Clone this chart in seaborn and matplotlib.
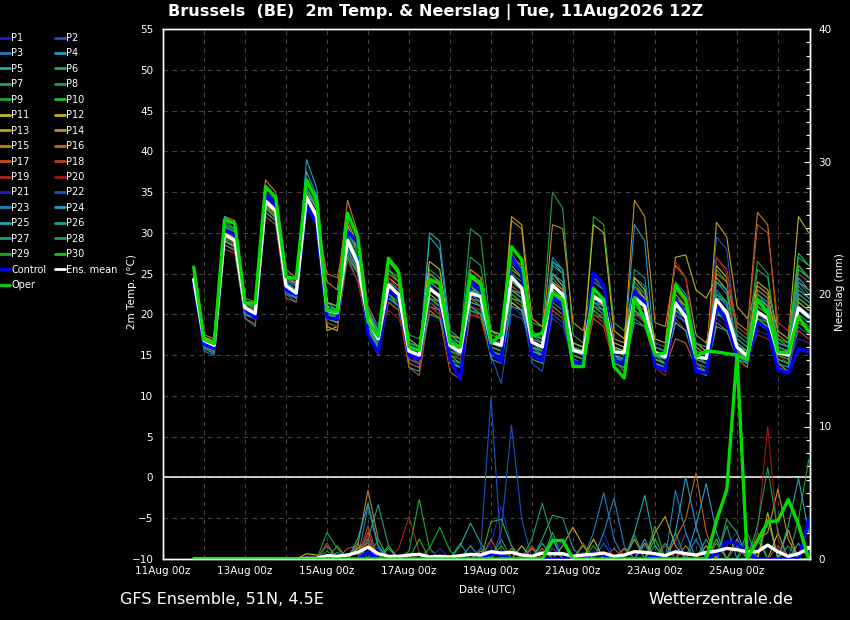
import numpy as np
import pandas as pd
import matplotlib
matplotlib.use('Agg')
import matplotlib.pyplot as plt
import matplotlib.dates as mdates
from matplotlib.lines import Line2D
from matplotlib.ticker import MultipleLocator
import seaborn as sns

# 6-hourly forecast steps, first step 11Aug 18z
times = pd.date_range('2026-08-11 18:00', periods=61, freq='6h')

# ---- 2m temperature (deg C) ----
MEAN_T = [24.3, 16.8, 16.2, 29.8, 29.1, 20.8, 20.1, 33.9, 32.7, 23.5, 22.6, 34.4, 32.0, 20.5, 20.2, 29.1, 26.3,
          19.3, 17.0, 23.6, 22.4, 15.5, 15.0, 23.2, 22.2, 16.2, 15.4, 22.6, 22.2, 16.6, 16.2, 24.6, 23.2,
          16.6, 16.0, 23.6, 22.4, 15.6, 15.3, 22.2, 21.4, 15.4, 15.3, 22.0, 21.0, 15.3, 14.8, 21.4, 19.7,
          14.8, 14.6, 21.8, 20.2, 16.0, 14.9, 20.3, 19.5, 15.3, 15.0, 20.8, 19.7]
OPER_T = [25.8, 16.9, 16.4, 31.6, 31.2, 21.4, 21.4, 35.7, 34.3, 24.6, 24.4, 36.5, 34.0, 20.5, 20.3, 32.4, 29.5,
          19.1, 17.3, 26.9, 25.1, 16.0, 15.6, 24.2, 23.8, 16.5, 16.0, 24.8, 23.8, 16.5, 17.5, 28.3, 26.7,
          17.3, 17.7, 22.6, 21.8, 13.6, 13.6, 23.2, 21.8, 13.6, 12.2, 22.0, 19.3, 15.0, 15.3, 23.6, 21.8,
          14.8, 15.5, 15.4, 15.2, 15.0, 14.4, 21.8, 20.2, 15.4, 15.3, 19.7, 17.9]
CTRL_T = [24.0, 16.3, 15.8, 30.4, 29.8, 20.6, 19.6, 34.6, 33.4, 23.0, 22.4, 33.5, 31.0, 19.6, 19.4, 30.2, 28.8,
          17.5, 15.3, 23.0, 22.0, 15.0, 14.6, 23.5, 22.0, 14.5, 12.0, 24.0, 23.0, 15.5, 14.2, 27.1, 25.0,
          15.0, 14.4, 22.2, 21.0, 14.2, 14.0, 25.1, 23.6, 14.3, 14.0, 22.8, 21.5, 13.6, 13.2, 21.8, 20.0,
          13.0, 12.8, 21.0, 19.2, 14.8, 14.4, 19.0, 18.2, 13.2, 12.8, 15.8, 15.4]

P1 = [24.1, 16.0, 15.5, 29.5, 28.8, 20.2, 19.4, 33.2, 32.0, 23.0, 22.0, 35.5, 33.0, 19.5, 19.0, 28.0, 25.0,
      18.0, 15.5, 22.0, 21.0, 14.5, 13.8, 22.5, 21.5, 15.0, 14.0, 21.0, 20.5, 15.5, 15.0, 23.0, 22.0,
      15.8, 15.2, 22.5, 21.5, 16.0, 15.5, 24.0, 23.0, 16.5, 16.0, 23.0, 22.0, 14.0, 13.5, 20.5, 19.0,
      13.5, 12.5, 19.5, 18.5, 15.5, 14.8, 22.5, 21.5, 14.5, 14.0, 20.0, 19.0]
P2 = [24.5, 16.5, 16.0, 30.0, 29.2, 21.0, 20.5, 34.2, 33.0, 24.0, 23.0, 33.8, 31.5, 21.0, 20.5, 27.5, 25.5,
      19.5, 17.5, 24.5, 23.0, 16.0, 15.5, 25.0, 24.0, 17.0, 16.0, 21.0, 20.5, 15.0, 11.5, 20.0, 19.5,
      17.0, 16.5, 25.0, 23.5, 16.0, 15.0, 21.0, 20.0, 14.5, 14.5, 22.5, 21.0, 15.5, 15.0, 23.5, 22.0,
      14.0, 13.5, 29.5, 28.0, 17.0, 16.0, 23.0, 22.0, 16.0, 15.5, 22.0, 21.0]
P3 = [24.2, 16.2, 15.6, 29.0, 28.5, 20.0, 19.5, 33.0, 31.8, 22.5, 21.5, 34.0, 31.5, 20.0, 19.8, 29.5, 26.5,
      19.0, 16.5, 23.0, 22.0, 15.0, 14.5, 22.0, 21.0, 16.5, 15.5, 21.5, 21.0, 17.0, 16.5, 26.5, 25.0,
      17.5, 16.5, 27.0, 25.5, 15.0, 14.5, 20.0, 19.0, 15.5, 15.0, 24.5, 23.5, 16.0, 15.5, 22.0, 20.5,
      15.5, 15.0, 24.0, 22.5, 16.5, 15.5, 21.0, 20.0, 16.0, 15.5, 23.5, 22.0]
P4 = [24.0, 15.8, 15.2, 31.0, 30.0, 20.0, 19.5, 34.0, 33.0, 23.5, 22.5, 39.0, 35.5, 21.5, 20.5, 27.0, 24.0,
      18.5, 16.0, 22.5, 21.0, 15.5, 14.5, 21.0, 20.5, 15.5, 15.0, 23.5, 22.0, 16.0, 15.5, 22.0, 21.5,
      17.0, 16.5, 26.0, 25.0, 15.5, 15.0, 21.5, 20.5, 16.0, 15.5, 31.0, 29.0, 15.0, 14.0, 20.0, 19.0,
      16.0, 15.0, 22.5, 21.0, 15.5, 14.5, 19.0, 18.0, 14.5, 14.0, 24.5, 23.0]
P5 = [24.4, 16.6, 16.0, 30.2, 29.5, 21.0, 20.5, 33.8, 32.5, 23.8, 23.0, 34.5, 32.0, 19.0, 18.5, 28.5, 26.0,
      18.5, 16.0, 24.0, 22.0, 13.5, 13.0, 30.0, 29.0, 18.0, 17.0, 23.0, 22.5, 16.0, 15.5, 21.5, 20.5,
      14.5, 14.0, 22.0, 21.0, 15.0, 14.5, 21.0, 20.5, 14.0, 13.5, 20.5, 19.5, 14.5, 14.0, 19.0, 18.0,
      15.0, 14.5, 22.0, 21.5, 15.0, 14.0, 19.5, 18.5, 15.5, 15.0, 21.0, 20.0]
P6 = [24.3, 17.0, 16.5, 29.0, 28.2, 21.5, 20.5, 32.5, 31.5, 23.0, 22.5, 35.0, 33.5, 20.5, 20.0, 29.0, 26.5,
      20.0, 17.5, 25.5, 24.0, 16.5, 16.0, 25.5, 24.5, 16.5, 15.5, 24.0, 23.0, 18.0, 17.5, 23.0, 22.0,
      16.0, 15.0, 24.5, 23.0, 14.5, 14.0, 22.0, 21.0, 15.0, 14.5, 21.0, 20.0, 16.0, 15.5, 20.0, 19.0,
      15.0, 14.0, 21.0, 20.0, 17.0, 16.0, 22.5, 21.0, 15.0, 14.5, 20.5, 19.5]
P7 = [24.6, 17.2, 16.8, 30.5, 29.6, 20.5, 20.0, 34.0, 33.0, 24.0, 23.5, 33.5, 31.5, 21.5, 21.0, 30.5, 27.5,
      20.5, 18.5, 22.0, 21.0, 17.5, 17.0, 21.0, 20.0, 14.5, 13.5, 23.0, 22.0, 17.0, 16.5, 24.5, 23.5,
      18.0, 17.0, 22.0, 21.0, 16.5, 16.0, 23.0, 22.0, 14.5, 13.0, 19.5, 18.5, 14.5, 14.0, 21.0, 19.5,
      15.5, 15.0, 20.5, 19.5, 16.0, 15.0, 25.5, 24.5, 16.5, 16.0, 27.0, 26.0]
P8 = [24.2, 16.4, 15.8, 31.5, 30.5, 21.0, 20.5, 33.5, 32.5, 22.8, 22.0, 34.0, 32.5, 21.0, 20.5, 30.0, 28.0,
      18.0, 16.0, 25.5, 24.0, 16.0, 15.0, 22.0, 21.5, 17.0, 16.5, 30.5, 29.5, 18.0, 17.5, 23.5, 22.5,
      19.0, 18.5, 35.0, 33.0, 17.5, 16.5, 23.0, 22.0, 16.5, 16.0, 22.5, 21.0, 14.0, 13.5, 22.0, 20.0,
      16.5, 16.0, 25.5, 24.0, 18.0, 17.0, 22.5, 21.5, 17.0, 16.0, 21.5, 20.5]
P9 = [24.5, 16.8, 16.2, 29.2, 28.8, 20.8, 20.2, 33.0, 31.8, 23.5, 22.8, 34.0, 31.8, 20.2, 19.8, 28.5, 26.0,
      19.5, 17.5, 23.5, 22.5, 15.5, 15.0, 24.5, 23.5, 15.0, 14.5, 22.0, 21.5, 16.0, 15.5, 23.5, 22.5,
      16.5, 16.0, 22.0, 21.0, 16.5, 16.0, 32.0, 31.0, 19.0, 18.0, 24.0, 22.5, 15.0, 14.5, 22.0, 20.5,
      13.0, 12.5, 23.0, 21.5, 15.5, 15.0, 20.0, 19.0, 15.0, 14.5, 19.5, 18.5]
P10 = [24.0, 16.5, 16.0, 31.0, 30.2, 21.2, 20.8, 34.5, 33.2, 24.2, 23.5, 35.5, 33.0, 21.0, 20.5, 27.5, 25.0,
       19.0, 17.0, 21.5, 20.5, 16.0, 15.5, 20.5, 19.5, 15.0, 14.0, 25.0, 24.0, 18.0, 17.0, 27.5, 25.5,
       16.0, 15.5, 21.0, 20.0, 14.0, 13.5, 20.0, 19.5, 15.5, 15.0, 21.5, 20.5, 14.5, 14.0, 20.5, 19.5,
       14.0, 13.5, 20.5, 19.0, 16.5, 15.5, 19.5, 18.5, 16.0, 15.5, 23.0, 22.0]
P11 = [24.8, 17.2, 16.6, 29.5, 29.0, 21.0, 20.0, 33.5, 32.5, 23.0, 22.0, 34.0, 32.5, 18.0, 18.5, 31.0, 28.0,
       20.0, 17.5, 27.0, 25.5, 17.0, 16.0, 26.5, 25.5, 17.5, 17.0, 21.0, 20.0, 15.5, 15.0, 21.5, 20.5,
       16.0, 15.5, 23.0, 22.0, 15.5, 15.0, 22.5, 21.5, 16.0, 15.5, 24.5, 23.0, 16.5, 16.0, 22.0, 21.0,
       16.5, 15.5, 26.0, 24.5, 15.0, 14.5, 20.5, 19.5, 15.5, 15.0, 22.0, 21.0]
P12 = [24.2, 16.0, 15.5, 30.0, 29.5, 20.5, 20.0, 33.0, 32.0, 23.0, 22.5, 34.5, 32.5, 18.5, 18.0, 27.5, 25.0,
       18.5, 16.5, 24.0, 22.5, 14.5, 14.0, 22.5, 21.5, 17.5, 16.5, 24.5, 23.5, 18.0, 17.5, 26.0, 24.5,
       15.0, 14.5, 22.0, 21.0, 16.5, 16.0, 31.0, 30.0, 18.0, 17.0, 23.5, 22.0, 17.0, 16.5, 27.0, 27.3,
       23.0, 22.0, 24.5, 23.0, 16.0, 15.0, 24.0, 23.0, 18.0, 17.0, 32.0, 30.0]
P13 = [24.6, 16.8, 16.2, 30.8, 30.0, 21.5, 21.0, 34.5, 33.5, 24.5, 23.8, 35.0, 33.0, 21.5, 21.0, 31.5, 28.5,
       20.0, 18.0, 24.5, 23.5, 16.0, 15.5, 24.0, 23.0, 16.0, 15.5, 25.5, 24.5, 17.0, 16.5, 32.0, 31.0,
       19.5, 18.5, 25.0, 23.5, 16.0, 15.5, 22.5, 21.5, 15.0, 14.5, 23.0, 22.0, 15.5, 15.0, 22.5, 21.0,
       15.0, 14.5, 31.3, 29.5, 21.0, 19.5, 23.5, 22.5, 16.0, 15.5, 26.0, 24.5]
P14 = [24.0, 16.2, 15.6, 29.0, 28.4, 20.0, 19.5, 33.5, 32.5, 23.5, 22.5, 33.5, 31.0, 19.5, 19.0, 30.5, 28.0,
       20.0, 18.0, 26.5, 25.0, 16.5, 16.0, 25.0, 24.0, 15.5, 15.0, 23.5, 22.5, 16.5, 16.0, 31.5, 30.5,
       17.5, 17.0, 31.0, 30.5, 19.0, 18.0, 24.5, 23.5, 17.0, 16.5, 34.0, 32.0, 19.0, 18.5, 26.0, 24.5,
       17.5, 16.5, 21.5, 20.5, 15.5, 14.5, 22.0, 21.0, 14.0, 13.0, 21.5, 20.5]
P15 = [25.0, 17.5, 17.0, 32.0, 31.5, 22.0, 21.5, 36.5, 35.0, 25.5, 24.5, 34.0, 32.0, 24.0, 23.0, 34.0, 30.0,
       21.0, 18.5, 25.0, 24.0, 15.0, 14.5, 21.5, 20.5, 14.0, 13.5, 22.0, 21.0, 16.0, 15.5, 23.0, 22.0,
       15.5, 15.0, 24.0, 23.0, 15.0, 14.5, 21.5, 21.0, 16.5, 16.0, 23.5, 22.5, 14.5, 14.0, 21.0, 20.0,
       16.0, 15.0, 25.0, 24.0, 19.0, 18.0, 32.5, 31.0, 17.5, 16.5, 24.0, 23.0]
P16 = [24.3, 16.4, 15.8, 30.0, 29.2, 21.0, 20.5, 35.0, 34.0, 24.5, 24.0, 34.5, 32.0, 25.0, 24.5, 30.5, 27.5,
       18.5, 16.0, 22.5, 21.5, 14.0, 13.5, 21.0, 20.0, 16.0, 15.0, 25.5, 24.5, 17.5, 17.0, 27.0, 26.0,
       16.5, 16.0, 24.0, 23.0, 15.5, 15.0, 20.5, 19.5, 14.5, 14.0, 20.5, 19.0, 14.0, 13.5, 17.0, 16.5,
       13.5, 13.0, 19.0, 18.0, 14.5, 13.5, 23.0, 22.0, 13.5, 13.0, 19.0, 18.0]
P17 = [24.1, 16.0, 15.3, 28.5, 27.8, 19.5, 18.8, 32.0, 31.0, 22.0, 21.5, 33.0, 31.0, 20.0, 19.5, 27.5, 25.0,
       17.5, 15.0, 21.5, 20.5, 13.5, 12.5, 20.5, 19.5, 13.0, 12.0, 20.0, 19.5, 15.0, 14.5, 22.0, 21.0,
       15.5, 15.0, 20.5, 19.5, 14.5, 14.0, 19.5, 18.5, 14.0, 13.5, 21.5, 20.5, 13.5, 13.0, 20.5, 19.5,
       14.0, 13.0, 21.0, 20.0, 15.0, 14.0, 20.5, 19.5, 14.5, 14.0, 18.0, 17.0]
P18 = [24.5, 16.6, 16.0, 28.0, 27.5, 20.5, 20.0, 33.0, 32.0, 23.0, 22.0, 33.5, 31.5, 20.5, 20.0, 29.0, 26.0,
       19.5, 17.0, 23.5, 22.5, 15.0, 14.5, 21.5, 20.5, 16.5, 16.0, 22.0, 21.0, 16.0, 15.5, 24.0, 23.0,
       16.5, 16.0, 21.0, 20.0, 15.5, 15.0, 24.5, 23.5, 14.5, 14.0, 22.5, 21.5, 15.0, 14.5, 23.0, 21.5,
       15.0, 14.5, 27.0, 25.5, 18.5, 17.5, 31.0, 30.0, 19.0, 18.0, 25.0, 24.0]
P19 = [24.2, 16.2, 15.6, 29.5, 28.6, 20.8, 20.0, 34.0, 33.0, 23.2, 22.5, 34.5, 32.5, 20.0, 19.5, 28.0, 25.5,
       18.0, 15.5, 24.5, 23.0, 15.0, 14.0, 24.5, 23.5, 15.5, 14.5, 20.5, 19.5, 15.0, 14.5, 23.5, 22.5,
       16.0, 15.5, 22.0, 21.0, 15.0, 14.5, 21.0, 20.0, 15.5, 15.0, 21.5, 20.5, 16.0, 15.5, 26.5, 24.5,
       14.5, 14.0, 21.0, 20.0, 15.5, 15.0, 20.5, 19.0, 15.0, 14.0, 21.0, 20.0]
P20 = [24.0, 16.0, 15.4, 30.2, 29.5, 21.2, 20.6, 33.5, 32.0, 23.0, 22.0, 33.5, 31.0, 19.0, 18.5, 26.5, 24.0,
       19.0, 17.0, 20.5, 19.5, 15.5, 15.0, 21.0, 20.0, 15.5, 14.5, 21.0, 20.5, 15.5, 15.0, 25.5, 24.5,
       17.0, 16.0, 23.0, 22.0, 15.0, 14.5, 20.0, 19.0, 13.5, 13.0, 20.0, 19.0, 13.5, 12.5, 19.5, 18.0,
       15.5, 15.0, 27.0, 25.0, 15.0, 14.5, 17.5, 17.0, 15.5, 15.0, 22.5, 21.5]
P21 = [24.3, 16.7, 16.1, 30.5, 29.8, 21.5, 21.0, 35.0, 34.0, 24.0, 23.5, 34.0, 31.5, 20.0, 19.5, 29.0, 26.5,
       20.5, 18.5, 24.0, 23.0, 15.0, 14.5, 21.5, 21.0, 15.5, 15.0, 21.0, 20.0, 17.0, 16.5, 21.0, 20.0,
       15.0, 14.5, 19.5, 18.5, 14.0, 13.5, 22.5, 21.5, 15.0, 14.5, 21.0, 20.0, 16.5, 16.0, 21.5, 20.0,
       14.5, 14.0, 20.5, 19.5, 14.5, 14.0, 18.0, 17.5, 14.5, 14.0, 17.0, 16.5]
P22 = [24.4, 16.5, 15.9, 31.0, 30.0, 20.0, 19.5, 32.5, 31.5, 23.5, 22.5, 33.5, 31.0, 20.5, 20.0, 27.5, 25.5,
       19.0, 16.5, 23.0, 22.0, 14.5, 14.0, 22.0, 21.0, 14.5, 13.5, 20.5, 20.0, 16.0, 14.0, 24.0, 23.0,
       14.0, 13.0, 20.0, 19.0, 14.5, 14.0, 24.5, 23.0, 15.0, 14.5, 23.5, 22.5, 14.0, 13.5, 20.0, 19.0,
       14.0, 13.5, 23.0, 21.0, 16.0, 15.0, 20.0, 19.0, 13.5, 13.0, 18.5, 17.5]
P23 = [24.0, 15.5, 15.0, 28.5, 28.0, 19.5, 18.5, 32.5, 31.5, 22.5, 22.0, 36.0, 34.0, 20.5, 19.5, 29.5, 27.0,
       19.0, 16.5, 24.0, 23.0, 16.5, 16.0, 23.0, 22.5, 16.0, 15.5, 22.5, 22.0, 15.0, 14.5, 25.0, 24.0,
       16.5, 15.5, 26.5, 25.0, 16.0, 15.5, 24.0, 23.0, 15.0, 14.5, 20.0, 19.5, 15.0, 14.5, 24.0, 22.5,
       16.5, 16.0, 20.5, 19.5, 15.5, 15.0, 21.0, 20.0, 16.0, 15.5, 24.0, 22.5]
P24 = [24.5, 16.0, 15.5, 32.0, 31.0, 21.5, 21.0, 35.5, 34.5, 24.5, 23.5, 37.5, 34.5, 21.0, 20.5, 29.0, 26.5,
       20.5, 18.0, 22.0, 21.0, 15.0, 14.5, 24.0, 23.0, 14.0, 13.5, 22.5, 21.5, 15.5, 15.0, 23.0, 22.5,
       15.5, 15.0, 25.0, 24.0, 15.5, 15.0, 23.0, 22.0, 15.0, 14.0, 21.5, 21.0, 14.0, 13.5, 21.0, 20.0,
       13.5, 13.0, 20.0, 19.5, 14.5, 14.0, 22.0, 21.0, 14.0, 13.5, 22.5, 21.5]
P25 = [24.2, 16.3, 15.7, 30.0, 29.0, 20.0, 19.5, 33.5, 32.0, 23.0, 22.0, 35.0, 33.0, 19.5, 19.0, 28.0, 25.5,
       18.5, 16.0, 23.5, 22.5, 15.5, 15.0, 29.5, 28.0, 17.0, 16.0, 21.5, 21.0, 14.5, 14.0, 21.0, 20.5,
       15.5, 15.0, 26.5, 25.5, 14.5, 14.0, 22.0, 21.0, 15.0, 14.5, 22.0, 21.5, 14.5, 14.0, 19.0, 18.0,
       13.5, 13.0, 18.5, 18.0, 15.0, 14.5, 21.5, 20.5, 16.5, 16.0, 25.5, 24.5]
P26 = [24.4, 16.9, 16.3, 29.8, 29.0, 20.5, 20.0, 34.0, 33.0, 23.8, 23.0, 34.0, 32.0, 20.0, 19.5, 30.0, 27.5,
       19.5, 17.5, 23.0, 22.0, 15.0, 14.5, 20.0, 19.5, 16.0, 15.0, 20.5, 20.0, 16.5, 16.0, 22.0, 21.5,
       15.0, 14.5, 22.5, 21.5, 15.5, 15.0, 21.5, 20.5, 14.0, 13.5, 19.0, 18.5, 15.0, 14.5, 20.5, 19.5,
       15.5, 15.0, 24.0, 23.0, 16.0, 15.5, 19.0, 18.5, 15.5, 15.0, 21.0, 20.0]
P27 = [24.1, 16.1, 15.5, 31.2, 30.4, 20.8, 20.0, 32.5, 31.5, 23.2, 22.4, 33.5, 31.5, 20.5, 20.0, 28.5, 26.0,
       20.5, 17.5, 25.5, 24.5, 16.0, 15.5, 23.0, 22.0, 15.5, 15.0, 23.5, 22.5, 16.0, 15.5, 22.5, 21.5,
       16.5, 16.0, 21.5, 20.5, 14.5, 14.0, 21.0, 20.0, 14.5, 14.0, 25.5, 24.5, 15.5, 15.0, 22.0, 21.0,
       15.0, 14.5, 20.0, 19.5, 15.0, 14.0, 20.5, 19.5, 14.5, 14.0, 20.0, 19.0]
P28 = [24.6, 16.8, 16.3, 30.6, 29.8, 21.0, 20.5, 33.8, 32.8, 23.5, 23.0, 35.5, 33.5, 21.0, 20.5, 30.5, 27.5,
       19.5, 17.0, 22.5, 21.5, 16.0, 15.5, 24.5, 24.0, 17.5, 16.5, 27.0, 26.0, 17.5, 17.0, 24.0, 23.0,
       17.5, 17.0, 26.5, 25.0, 15.5, 15.0, 22.5, 21.5, 14.0, 13.5, 22.0, 21.0, 14.5, 14.0, 23.0, 22.0,
       14.5, 14.0, 21.0, 20.0, 17.5, 16.5, 26.5, 25.0, 15.5, 15.0, 26.0, 24.5]
P29 = [24.3, 16.6, 16.0, 29.6, 28.8, 20.6, 20.0, 33.2, 32.2, 23.0, 22.5, 34.0, 32.0, 20.0, 19.5, 27.0, 25.0,
       19.0, 16.5, 22.5, 21.0, 15.0, 14.5, 22.0, 21.5, 16.0, 15.5, 24.0, 23.0, 16.0, 15.5, 22.5, 21.5,
       18.0, 17.0, 22.5, 21.5, 16.0, 15.5, 20.5, 19.5, 16.0, 15.0, 22.0, 21.0, 16.0, 15.5, 21.5, 20.5,
       14.5, 14.0, 22.5, 21.5, 15.0, 14.5, 19.5, 19.0, 14.5, 14.0, 22.0, 21.0]
P30 = [24.2, 16.2, 15.6, 30.8, 30.0, 21.4, 20.8, 34.6, 33.4, 23.6, 22.8, 33.8, 31.8, 19.5, 19.0, 29.5, 27.0,
       18.0, 15.5, 23.0, 22.0, 15.5, 15.0, 22.0, 21.0, 14.5, 14.0, 21.0, 20.0, 15.5, 15.0, 25.5, 24.5,
       16.0, 15.5, 23.0, 22.0, 15.0, 14.5, 22.5, 21.5, 15.5, 15.0, 20.5, 19.5, 14.5, 14.0, 21.5, 20.5,
       15.0, 14.5, 20.5, 19.0, 16.0, 15.5, 21.0, 20.0, 17.0, 16.5, 27.5, 26.0]

# ---- precipitation (mm per 6h); step index -> value, all other steps 0 ----
MEAN_RR = {11: 0.05, 12: 0.05, 13: 0.25, 14: 0.2, 15: 0.3, 16: 0.5, 17: 0.9, 18: 0.4, 19: 0.2, 20: 0.2,
           21: 0.3, 22: 0.35, 23: 0.15, 24: 0.2, 25: 0.15, 26: 0.25, 27: 0.35, 28: 0.3, 29: 0.55, 30: 0.45,
           31: 0.5, 32: 0.3, 33: 0.2, 34: 0.45, 35: 0.4, 36: 0.4, 37: 0.2, 38: 0.3, 39: 0.35, 40: 0.45,
           41: 0.2, 42: 0.3, 43: 0.55, 44: 0.5, 45: 0.4, 46: 0.25, 47: 0.55, 48: 0.4, 49: 0.3, 50: 0.5,
           51: 0.6, 52: 0.8, 53: 0.7, 54: 0.55, 55: 0.55, 56: 1.05, 57: 0.55, 58: 0.2, 59: 0.4, 60: 0.8}
OPER_RR = {35: 1.4, 36: 1.4, 51: 2.9, 52: 5.2, 53: 15.4, 55: 1.4, 56: 2.8, 57: 2.9, 58: 4.5, 59: 2.6}
CTRL_RR = {17: 0.5, 29: 0.4, 30: 0.3, 39: 0.5, 40: 0.3, 45: 0.3, 51: 0.4, 52: 1.3, 53: 1.2, 54: 0.4, 60: 3.0}

P1_RR = {29: 1.2, 30: 4.0, 31: 1.0, 38: 0.5, 47: 1.5, 52: 1.0, 53: 2.0}
P2_RR = {30: 2.0, 31: 10.1, 32: 3.0, 35: 0.8, 40: 1.2, 48: 2.0}
P3_RR = {17: 4.0, 18: 0.8, 39: 2.0, 40: 5.0, 41: 1.5, 47: 5.2, 48: 2.0, 53: 1.0}
P4_RR = {16: 0.8, 17: 1.5, 27: 1.0, 44: 1.5, 49: 2.5, 50: 5.7, 51: 2.0, 59: 1.2}
P5_RR = {26: 1.0, 27: 2.7, 28: 1.2, 43: 2.0, 44: 4.8, 45: 1.0, 55: 1.5}
P6_RR = {17: 1.5, 18: 4.1, 19: 1.0, 33: 1.0, 35: 2.0, 50: 1.5, 52: 2.5}
P7_RR = {13: 1.0, 33: 1.5, 34: 4.2, 35: 1.5, 46: 1.2, 54: 1.0, 56: 3.0}
P8_RR = {13: 2.0, 14: 0.8, 16: 1.2, 28: 0.8, 45: 2.5, 47: 2.0}
P9_RR = {21: 0.6, 22: 4.5, 23: 0.8, 30: 1.5, 55: 2.0, 59: 3.0, 60: 7.5}
P10_RR = {14: 1.0, 29: 2.8, 30: 3.0, 31: 1.0, 51: 1.2}
P11_RR = {11: 0.4, 12: 0.3, 32: 1.0, 39: 1.5, 42: 0.8, 50: 1.0, 57: 2.0}
P12_RR = {36: 1.0, 37: 2.4, 38: 1.0, 44: 1.2, 56: 3.5}
P13_RR = {16: 0.8, 17: 1.2, 45: 2.0, 46: 3.2, 47: 1.0, 58: 2.2}
P14_RR = {28: 0.6, 33: 0.8, 43: 1.5, 55: 1.5, 56: 2.0, 57: 5.3, 58: 1.5}
P15_RR = {16: 1.0, 17: 5.2, 18: 1.5, 31: 0.8, 48: 1.0, 53: 1.5}
P16_RR = {17: 2.0, 34: 0.8, 47: 1.5, 48: 3.0, 49: 6.5, 50: 2.0}
P17_RR = {15: 0.8, 16: 1.0, 17: 1.2, 29: 1.5, 41: 0.8, 51: 1.5}
P18_RR = {13: 1.2, 17: 2.5, 38: 1.2, 57: 1.0}
P19_RR = {20: 0.8, 21: 3.2, 22: 0.5, 33: 1.0, 46: 1.0}
P20_RR = {17: 1.8, 42: 0.7, 55: 2.0, 56: 10.0, 57: 1.5}
P21_RR = {18: 1.0, 24: 0.8, 36: 1.5, 40: 2.0, 54: 1.5}
P22_RR = {28: 0.8, 29: 12.2, 30: 0.5, 44: 1.0}
P23_RR = {40: 2.0, 41: 4.6, 42: 1.0, 49: 1.5, 58: 1.0}
P24_RR = {17: 1.0, 35: 1.5, 47: 2.0, 48: 6.2, 49: 2.5, 60: 3.0}
P25_RR = {16: 1.5, 17: 4.2, 18: 1.0, 34: 1.2, 58: 2.5, 59: 6.1, 60: 2.0}
P26_RR = {19: 0.8, 34: 1.5, 35: 3.3, 36: 3.1, 37: 0.8, 45: 1.0}
P27_RR = {14: 0.5, 26: 1.2, 43: 1.8, 52: 3.0, 53: 2.0}
P28_RR = {13: 0.6, 18: 1.5, 30: 1.0, 55: 2.5, 56: 6.9, 57: 2.0}
P29_RR = {23: 0.8, 24: 2.4, 25: 0.6, 39: 1.0, 51: 1.5}
P30_RR = {19: 1.0, 22: 1.5, 38: 1.0, 45: 1.5, 54: 2.0}

# member colours (P21..P30 reuse P1..P10)
BASE_COLORS = ['#2020c8', '#1f50c0', '#1f80c0', '#1fa0c8', '#1fa8b0', '#1fa088', '#1fa068', '#1fa048',
               '#1fa830', '#1fbf1f', '#c0c01f', '#c0b01f', '#c0a01f', '#c0901f', '#c08018', '#c06818',
               '#c05018', '#b84020', '#a82818', '#a01818']
CTRL_COLOR = '#0000ff'
OPER_COLOR = '#00dd00'
MEAN_COLOR = '#ffffff'

member_t = [P1, P2, P3, P4, P5, P6, P7, P8, P9, P10, P11, P12, P13, P14, P15,
            P16, P17, P18, P19, P20, P21, P22, P23, P24, P25, P26, P27, P28, P29, P30]
member_rr = [P1_RR, P2_RR, P3_RR, P4_RR, P5_RR, P6_RR, P7_RR, P8_RR, P9_RR, P10_RR,
             P11_RR, P12_RR, P13_RR, P14_RR, P15_RR, P16_RR, P17_RR, P18_RR, P19_RR, P20_RR,
             P21_RR, P22_RR, P23_RR, P24_RR, P25_RR, P26_RR, P27_RR, P28_RR, P29_RR, P30_RR]
names = [f'P{i}' for i in range(1, 31)]
colors = BASE_COLORS + BASE_COLORS[:10]
palette = dict(zip(names, colors))


def rr_series(d):
    v = np.zeros(len(times))
    for k, val in d.items():
        v[k] = val
    return v


for s in member_t + [MEAN_T, OPER_T, CTRL_T]:
    assert len(s) == len(times), len(s)

rows = []
for name, tt, rr in zip(names, member_t, member_rr):
    rows.append(pd.DataFrame({'time': times, 'member': name, 'temp': tt, 'rr': rr_series(rr)}))
df = pd.concat(rows, ignore_index=True)

sns.set_theme(style='dark', rc={'axes.facecolor': 'black', 'figure.facecolor': 'black',
                                'text.color': 'white', 'axes.labelcolor': 'white',
                                'xtick.color': 'white', 'ytick.color': 'white',
                                'axes.edgecolor': 'white'})
plt.rcParams['font.family'] = ['DejaVu Sans']

fig = plt.figure(figsize=(8.5, 6.2), dpi=100)
ax = fig.add_axes([163 / 850, 1 - 559 / 620, 647 / 850, 530 / 620])
ax2 = ax.twinx()

# temperature
sns.lineplot(data=df, x='time', y='temp', hue='member', palette=palette, linewidth=0.8,
             legend=False, estimator=None, sort=False, ax=ax)
sns.lineplot(x=times, y=CTRL_T, color=CTRL_COLOR, linewidth=2.4, ax=ax)
sns.lineplot(x=times, y=MEAN_T, color=MEAN_COLOR, linewidth=2.4, ax=ax)
sns.lineplot(x=times, y=OPER_T, color=OPER_COLOR, linewidth=2.4, ax=ax)
ax.axhline(0, color='white', lw=1.1, zorder=1)

# precipitation on the right axis
sns.lineplot(data=df, x='time', y='rr', hue='member', palette=palette, linewidth=0.8,
             legend=False, estimator=None, sort=False, ax=ax2)
sns.lineplot(x=times, y=rr_series(CTRL_RR), color=CTRL_COLOR, linewidth=2.4, ax=ax2)
sns.lineplot(x=times, y=rr_series(MEAN_RR), color=MEAN_COLOR, linewidth=2.4, ax=ax2)
sns.lineplot(x=times, y=rr_series(OPER_RR), color=OPER_COLOR, linewidth=2.4, ax=ax2)

ax.set_xlim(pd.Timestamp('2026-08-11 00:00'), pd.Timestamp('2026-08-26 18:45'))
ax.set_ylim(-10, 55)
ax2.set_ylim(0, 40)
ax.yaxis.set_major_locator(MultipleLocator(5))
ax2.yaxis.set_major_locator(MultipleLocator(10))
ax2.yaxis.set_minor_locator(MultipleLocator(1))
ax.xaxis.set_major_locator(mdates.DayLocator(bymonthday=[11, 13, 15, 17, 19, 21, 23, 25]))
ax.xaxis.set_minor_locator(mdates.DayLocator())
ax.xaxis.set_major_formatter(mdates.DateFormatter('%d%b %Hz'))

ax.grid(True, which='both', axis='x', color='#444444', linestyle=(0, (4, 4)), linewidth=0.8)
ax.grid(True, which='major', axis='y', color='#444444', linestyle=(0, (4, 4)), linewidth=0.8)
ax2.grid(False)
ax.set_axisbelow(True)

ax.tick_params(axis='both', which='both', length=0, labelsize=7.5, colors='white', pad=7)
ax.tick_params(axis='x', pad=5)
ax2.tick_params(axis='y', which='major', direction='in', length=4, width=0.8, labelsize=7.5,
                colors='white', pad=6)
ax2.tick_params(axis='y', which='minor', direction='in', length=3, width=0.8, colors='white')
ax.set_xlabel('')
ax.set_ylabel('')
ax2.set_ylabel('')
for a in (ax, ax2):
    for sp in a.spines.values():
        sp.set_color('white')
        sp.set_linewidth(1.0)

fig.text(0.512, 1 - 12 / 620, 'Brussels  (BE)  2m Temp. & Neerslag | Tue, 11Aug2026 12Z',
         ha='center', va='center', fontsize=11.6, fontweight='bold', color='white')
fig.text(132 / 850, 1 - 292 / 620, '2m Temp. (°C)', rotation=90, ha='center', va='center',
         fontsize=7.5, color='white')
fig.text(840 / 850, 1 - 292 / 620, 'Neerslag (mm)', rotation=90, ha='center', va='center',
         fontsize=7.5, color='white')
fig.text(487 / 850, 1 - 589 / 620, 'Date (UTC)', ha='center', va='center', fontsize=7.5, color='white')
fig.text(120 / 850, 1 - 599 / 620, 'GFS Ensemble, 51N, 4.5E', ha='left', va='center',
         fontsize=11.5, color='white')
fig.text(793 / 850, 1 - 599 / 620, 'Wetterzentrale.de', ha='right', va='center',
         fontsize=11.5, color='white')

# legend laid out row-wise: P1 P2 / P3 P4 / ... / Control Ens. mean / Oper
entries = [(n, c, 2.0) for n, c in zip(names, colors)]
entries += [('Control', CTRL_COLOR, 2.0), ('Ens. mean', MEAN_COLOR, 2.0), ('Oper', OPER_COLOR, 2.0)]
left_col = entries[0::2]
right_col = entries[1::2]
ordered = left_col + right_col
handles = [Line2D([], [], color=c, lw=w) for _, c, w in ordered]
labels = [n for n, _, _ in ordered]
fig.legend(handles, labels, loc='upper left', bbox_to_anchor=(0.0, 1 - 33 / 620), ncol=2,
           frameon=False, fontsize=7, handlelength=1.0, handletextpad=0.15, columnspacing=0.9,
           labelspacing=0.56, borderpad=0, borderaxespad=0, labelcolor='white')

fig.savefig('out.png', dpi=100, facecolor='black')
